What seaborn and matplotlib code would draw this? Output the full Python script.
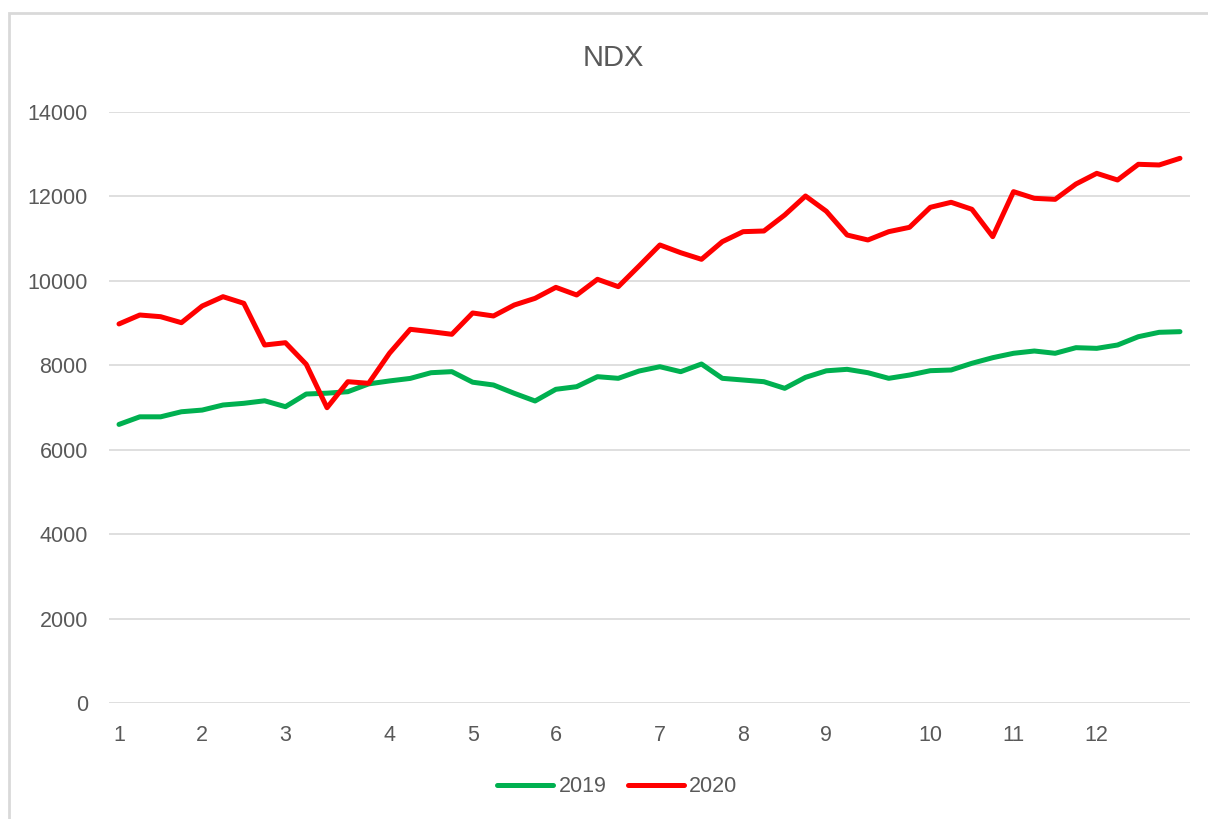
import numpy as np
import pandas as pd
import matplotlib
matplotlib.use("Agg")
import matplotlib.pyplot as plt
import seaborn as sns
from matplotlib.patches import Rectangle
from matplotlib.lines import Line2D

# --- 데이터: 주간 NDX 종가 ---
weeks = list(range(52))
ndx_2019 = [6600, 6780, 6780, 6900, 6940, 7060, 7100, 7160, 7020, 7320,
            7340, 7375, 7560, 7630, 7690, 7825, 7850, 7600, 7534, 7337,
            7155, 7432, 7494, 7731, 7692, 7865, 7967, 7849, 8031, 7692,
            7652, 7612, 7455, 7715, 7870, 7905, 7825, 7692, 7770, 7873,
            7889, 8048, 8181, 8285, 8339, 8285, 8418, 8402, 8481, 8678,
            8782, 8797]
ndx_2020 = [8980, 9192, 9152, 9010, 9405, 9626, 9469, 8481, 8536, 8024,
            6996, 7612, 7574, 8285, 8853, 8797, 8735, 9240, 9169, 9429,
            9587, 9847, 9666, 10038, 9863, 10353, 10851, 10668, 10511, 10929,
            11166, 11182, 11561, 12011, 11650, 11087, 10969, 11166, 11269, 11743,
            11862, 11696, 11048, 12114, 11956, 11932, 12295, 12548, 12390, 12762,
            12746, 12904]

# 월 시작 주에만 월 번호 라벨
month_pos = [0, 4, 8, 13, 17, 21, 26, 30, 34, 39, 43, 47]
month_labels = [str(m) for m in range(1, 13)]

df = pd.DataFrame({
    "week": weeks * 2,
    "value": ndx_2019 + ndx_2020,
    "year": ["2019"] * 52 + ["2020"] * 52,
})

sns.set_theme(style="white")
plt.rcParams['font.family'] = ['Liberation Sans', 'DejaVu Sans']
text_color = "#595959"
grid_color = "#d9d9d9"
colors = {"2019": "#00B050", "2020": "#FF0000"}

fig = plt.figure(figsize=(12.08, 8.19), dpi=100)
ax = fig.add_axes([0.0899, 0.1416, 0.8955, 0.7216])

sns.lineplot(data=df, x="week", y="value", hue="year", palette=colors,
             linewidth=3.6, ax=ax, legend=False)

ax.set_xlim(-0.5, 51.5)
ax.set_ylim(0, 14000)
ax.set_yticks(range(0, 14001, 2000))
ax.set_xticks(month_pos)
ax.set_xticklabels(month_labels)
ax.yaxis.grid(True, color=grid_color, linewidth=1.2)
ax.set_axisbelow(True)
for s in ax.spines.values():
    s.set_visible(False)
ax.tick_params(axis="x", length=0, pad=16, labelsize=15.5, labelcolor=text_color)
ax.tick_params(axis="y", length=0, pad=15, labelsize=15.5, labelcolor=text_color)
ax.set_xlabel("")
ax.set_ylabel("")

fig.text(0.508, 1 - 58 / 819, "NDX", ha="center", va="center",
         fontsize=21, color=text_color)

handles = [Line2D([], [], color=colors["2019"], lw=3.6, solid_capstyle="round"),
           Line2D([], [], color=colors["2020"], lw=3.6, solid_capstyle="round")]
fig.legend(handles, ["2019", "2020"], loc="center",
           bbox_to_anchor=(0.511, 1 - 787 / 819), ncol=2, frameon=False,
           fontsize=15.5, labelcolor=text_color, handlelength=2.6,
           handletextpad=0.25, columnspacing=1.0)

# 차트 영역 테두리
fig.patches.append(Rectangle((8.5 / 1208, -0.05), 1.1, 1 - 13 / 819 + 0.05,
                             transform=fig.transFigure, fill=False,
                             edgecolor=grid_color, linewidth=2))

fig.savefig("out.png", dpi=100)
